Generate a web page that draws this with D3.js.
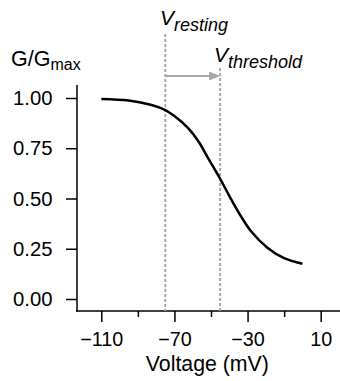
<!DOCTYPE html>
<html><head><meta charset="utf-8">
<script src="https://cdn.jsdelivr.net/npm/d3@7/dist/d3.min.js"></script>
<style>
html,body{margin:0;padding:0;background:#fff;}
text{font-family:"Liberation Sans",Arial,Helvetica,sans-serif;}
</style></head>
<body><svg id="c" width="340" height="381"></svg>
<script>
const voltage = [-110, -95, -82.5, -75, -70, -62.5, -57, -51.5, -45, -40, -33.5, -28, -19, -10, 0];
const conductance = [0.995, 0.987, 0.965, 0.94, 0.91, 0.85, 0.786, 0.70, 0.598, 0.513, 0.41, 0.336, 0.254, 0.203, 0.175];
const xMajorTicks = [-110, -70, -30, 10];
const xMinorTicks = [-90, -50, -10];
const yTicks = [0, 0.25, 0.5, 0.75, 1.0];
const vResting = -75;
const vThreshold = -45;

const svg = d3.select("#c");
const x = d3.scaleLinear().domain([-110, 10]).range([101.3, 320.7]);
const y = d3.scaleLinear().domain([0, 1]).range([299, 98]);
const xAxisY = 311, yAxisX = 77;
const FF = '"Liberation Sans",Arial,sans-serif';

// axes lines
svg.append("line").attr("x1", yAxisX).attr("x2", yAxisX).attr("y1", 85).attr("y2", xAxisY + 0.75)
  .attr("stroke", "#000").attr("stroke-width", 1.5);
svg.append("line").attr("x1", yAxisX - 0.75).attr("x2", 340).attr("y1", xAxisY).attr("y2", xAxisY)
  .attr("stroke", "#000").attr("stroke-width", 1.5);

// y axis
const yAx = svg.append("g").attr("transform", `translate(${yAxisX},0)`)
  .call(d3.axisLeft(y).tickValues(yTicks).tickFormat(d3.format(".2f")).tickSize(11).tickPadding(13.5));
yAx.select(".domain").remove();
yAx.selectAll(".tick line").attr("stroke", "#000").attr("stroke-width", 1.5);
yAx.selectAll(".tick text").attr("font-size", 20.3).attr("fill", "#000").style("font-family", FF);

// x axis
const xAx = svg.append("g").attr("transform", `translate(0,${xAxisY})`)
  .call(d3.axisBottom(x).tickValues(xMajorTicks).tickFormat(d => d3.format("")(d).replace("-", "\u2212")).tickSize(11).tickPadding(10));
xAx.select(".domain").remove();
xAx.selectAll(".tick line").attr("stroke", "#000").attr("stroke-width", 1.5);
xAx.selectAll(".tick text").attr("font-size", 19.8).attr("fill", "#000").style("font-family", FF);
const xMin = svg.append("g").attr("transform", `translate(0,${xAxisY})`)
  .call(d3.axisBottom(x).tickValues(xMinorTicks).tickFormat("").tickSize(6));
xMin.select(".domain").remove();
xMin.selectAll(".tick line").attr("stroke", "#000").attr("stroke-width", 1.5);

// axis titles
svg.append("text").attr("x", x(-52)).attr("y", 371).attr("text-anchor", "middle")
  .attr("font-size", 21.3).text("Voltage (mV)");
const gl = svg.append("text").attr("x", 11).attr("y", 65.5).attr("font-size", 21.5);
gl.append("tspan").text("G/G");
gl.append("tspan").attr("dy", 4.5).attr("font-size", 16).text("max");

// dashed lines
svg.append("line").attr("x1", x(vResting)).attr("x2", x(vResting)).attr("y1", 34).attr("y2", xAxisY)
  .attr("stroke", "#a0a0a0").attr("stroke-width", 1.8).attr("stroke-dasharray", "3,2");
svg.append("line").attr("x1", x(vThreshold)).attr("x2", x(vThreshold)).attr("y1", 68).attr("y2", xAxisY)
  .attr("stroke", "#a0a0a0").attr("stroke-width", 1.8).attr("stroke-dasharray", "3,2");

// arrow
const ay = 76;
svg.append("line").attr("x1", x(vResting)).attr("x2", x(vThreshold) - 8).attr("y1", ay).attr("y2", ay)
  .attr("stroke", "#a8a8a8").attr("stroke-width", 2);
svg.append("path")
  .attr("d", `M${x(vThreshold)},${ay} L${x(vThreshold) - 11},${ay - 4.5} L${x(vThreshold) - 11},${ay + 4.5} Z`)
  .attr("fill", "#a8a8a8");

// labels
const lr = svg.append("text").attr("x", 160).attr("y", 25).attr("font-style", "italic").attr("font-size", 21);
lr.append("tspan").text("V");
lr.append("tspan").attr("dy", 6).attr("font-size", 18).text("resting");
const lt = svg.append("text").attr("x", 214).attr("y", 62).attr("font-style", "italic").attr("font-size", 21);
lt.append("tspan").text("V");
lt.append("tspan").attr("dy", 6).attr("font-size", 18).text("threshold");

// curve
const pts = voltage.map((v, i) => [v, conductance[i]]);
svg.append("path").datum(pts)
  .attr("d", d3.line().x(d => x(d[0])).y(d => y(d[1])).curve(d3.curveCatmullRom))
  .attr("fill", "none").attr("stroke", "#000").attr("stroke-width", 2.5);
</script></body></html>
